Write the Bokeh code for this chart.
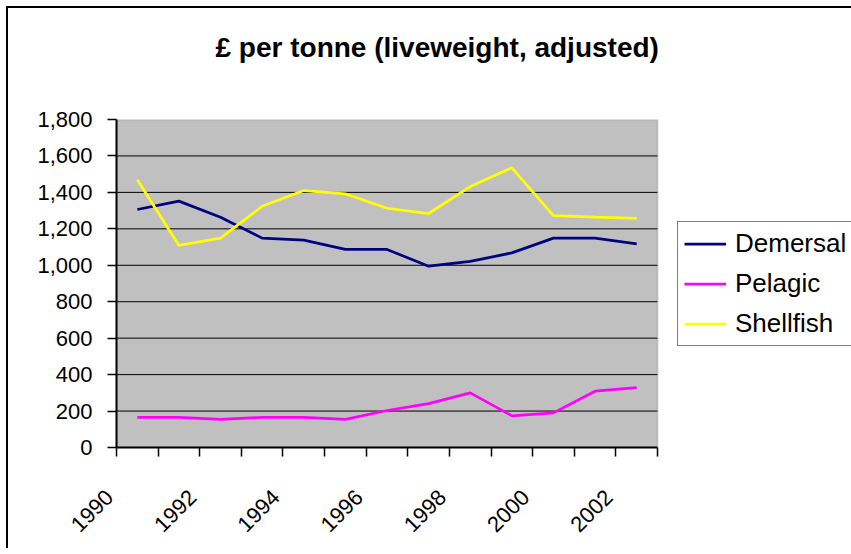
import math
from bokeh.plotting import figure
from bokeh.models import (FixedTicker, NumeralTickFormatter, CustomJSTickFormatter,
                          Legend, LegendItem, Range1d, BoxAnnotation, Title)
from bokeh.embed import file_html
from bokeh.resources import INLINE

# ---- data ----
years = [1990, 1991, 1992, 1993, 1994, 1995, 1996, 1997, 1998, 1999, 2000, 2001, 2002]
demersal = [1306, 1352, 1264, 1149, 1138, 1087, 1087, 995, 1021, 1068, 1149, 1149, 1118]
pelagic = [165, 165, 154, 165, 165, 154, 203, 241, 300, 174, 190, 309, 329]
shellfish = [1469, 1109, 1149, 1324, 1410, 1392, 1313, 1284, 1432, 1535, 1273, 1264, 1257]
label_years = [1990, 1992, 1994, 1996, 1998, 2000, 2002]
y_ticks = [0, 200, 400, 600, 800, 1000, 1200, 1400, 1600, 1800]
series_names = ["Demersal", "Pelagic", "Shellfish"]
series_colors = ["#000080", "#FF00FF", "#FFFF00"]
chart_title = "£ per tonne (liveweight, adjusted)"

FONT = "Liberation Sans"

# ---- geometry (pixels) ----
W, H = 851, 548
LEFT, TOP = 116, 119
PLOT_W, PLOT_H = 541, 328          # grey plotting area
BOTTOM = H - TOP - PLOT_H
x_lo = years[0] - 0.5
x_hi_plot = years[-1] + 0.5
units_per_px = (x_hi_plot - x_lo) / PLOT_W
x_hi_frame = x_lo + (W - LEFT) * units_per_px   # frame runs to the right edge (legend lives there)
LABEL_SHIFT = 0.36                               # rotated labels sit left of category centre

p = figure(width=W, height=H, output_backend="svg", toolbar_location=None,
           x_range=Range1d(x_lo, x_hi_frame),
           y_range=Range1d(y_ticks[0], y_ticks[-1]),
           min_border_left=LEFT, min_border_right=0, min_border_top=TOP,
           min_border_bottom=BOTTOM,
           title=chart_title)
# outer chart border (left and top edges only; the rest lies beyond the picture)
p.styles = {
    "background": "linear-gradient(black, black) 6px 6px / 2px 100% no-repeat, "
                  "linear-gradient(black, black) 6px 6px / 100% 2px no-repeat, white"
}

p.background_fill_color = "white"
p.border_fill_alpha = 0
p.outline_line_color = None

# grey plot area
p.add_layout(BoxAnnotation(left=x_lo, right=x_hi_plot, bottom=y_ticks[0], top=y_ticks[-1],
                           fill_color="#C0C0C0", fill_alpha=1,
                           line_color="#808080", line_width=2, level="image"))

# horizontal gridlines, confined to the plot area
gy = y_ticks[1:-1]
p.segment(x0=[x_lo] * len(gy), x1=[x_hi_plot] * len(gy), y0=gy, y1=gy,
          line_color="black", line_width=1)

# title (outermost) + spacer between title and plot area
p.title.text_font = FONT
p.title.text_font_size = "28px"
p.title.text_font_style = "bold"
p.title.text_color = "black"
p.title.align = "left"
p.title.offset = 99
p.title.standoff = 0
p.add_layout(Title(text=" ", text_font_size="1px", standoff=54), "above")

# x axis
bounds = [x_lo + i for i in range(len(years) + 1)]
xa = p.xaxis[0]
xa.bounds = (x_lo, x_hi_plot)
xa.ticker = FixedTicker(ticks=[y - LABEL_SHIFT for y in label_years], minor_ticks=bounds)
xa.formatter = CustomJSTickFormatter(
    code="return String(Math.round(tick)) + '\\u00a0\\u00a0\\u00a0';")
xa.major_tick_out = 0
xa.major_tick_in = 0
xa.minor_tick_out = 9
xa.minor_tick_in = 0
xa.minor_tick_line_color = "black"
xa.minor_tick_line_width = 1.5
xa.axis_line_color = "black"
xa.axis_line_width = 2
xa.major_label_orientation = math.pi / 4
xa.major_label_text_font = FONT
xa.major_label_text_font_size = "22px"
xa.major_label_text_color = "black"
xa.major_label_standoff = 24

# y axis
ya = p.yaxis[0]
ya.ticker = FixedTicker(ticks=y_ticks)
ya.formatter = NumeralTickFormatter(format="0,0")
ya.major_tick_out = 9
ya.major_tick_in = 0
ya.minor_tick_out = 0
ya.minor_tick_in = 0
ya.major_tick_line_color = "black"
ya.major_tick_line_width = 1.5
ya.axis_line_color = "black"
ya.axis_line_width = 2
ya.major_label_text_font = FONT
ya.major_label_text_font_size = "22px"
ya.major_label_text_color = "black"
ya.major_label_standoff = 15

p.xgrid.visible = False
p.ygrid.visible = False

renderers = []
for name, vals, col in zip(series_names, [demersal, pelagic, shellfish], series_colors):
    r = p.line(years, vals, line_color=col, line_width=2.75)
    renderers.append(r)

legend = Legend(items=[LegendItem(label=n, renderers=[r]) for n, r in zip(series_names, renderers)],
                location=(677 - LEFT, TOP + PLOT_H - 346), orientation="vertical")
legend.label_text_font = FONT
legend.label_text_font_size = "26px"
legend.label_text_color = "black"
legend.glyph_width = 42
legend.glyph_height = 31
legend.label_height = 31
legend.label_standoff = 9
legend.spacing = 9
legend.padding = 6
legend.margin = 0
legend.border_line_color = "black"
legend.border_line_width = 1
legend.background_fill_color = "white"
legend.background_fill_alpha = 1
p.add_layout(legend, "center")

open("out.html", "w").write(file_html(p, INLINE))
